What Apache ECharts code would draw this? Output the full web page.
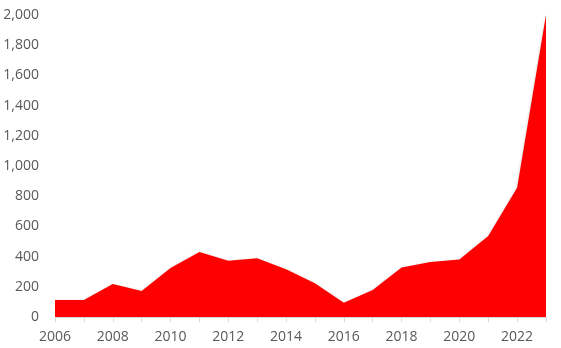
<!DOCTYPE html>
<html>
<head>
<meta charset="utf-8">
<script src="https://cdn.jsdelivr.net/npm/echarts@6/dist/echarts.min.js"></script>
<style>html,body{margin:0;padding:0;background:#fff}#c{width:561px;height:348px}</style>
</head>
<body>
<div id="c"></div>
<script>
var years = ['2006','2007','2008','2009','2010','2011','2012','2013','2014','2015','2016','2017','2018','2019','2020','2021','2022','2023'];
var values = [112, 112, 218, 172, 324, 430, 373, 389, 316, 223, 95, 179, 327, 364, 380, 536, 856, 2000];
var yMin = 0, yMax = 2000, yStep = 200;

var chart = echarts.init(document.getElementById('c'));
chart.setOption({
  animation: false,
  grid: {left: 55, right: 15, top: 15, bottom: 31, containLabel: false},
  xAxis: {
    type: 'category',
    data: years,
    boundaryGap: false,
    axisLine: {lineStyle: {color: '#d9d9d9', width: 1}},
    axisTick: {show: true, interval: 0, length: 5, lineStyle: {color: '#d9d9d9'}},
    axisLabel: {interval: 1, color: '#595959', fontSize: 14, fontFamily: 'Open Sans', margin: 13}
  },
  yAxis: {
    type: 'value',
    min: yMin, max: yMax, interval: yStep,
    axisLine: {show: false},
    axisTick: {show: false},
    splitLine: {show: false},
    axisLabel: {
      color: '#595959', fontSize: 14, fontFamily: 'Open Sans', margin: 16,
      formatter: function (v) { return v.toLocaleString('en-US'); }
    }
  },
  series: [{
    type: 'line',
    data: values,
    symbol: 'none',
    lineStyle: {width: 0, color: '#ff0000'},
    areaStyle: {color: '#ff0000', opacity: 1, shadowColor: 'rgba(0,0,0,0.25)', shadowBlur: 3, shadowOffsetY: 1}
  }]
});
</script>
</body>
</html>
